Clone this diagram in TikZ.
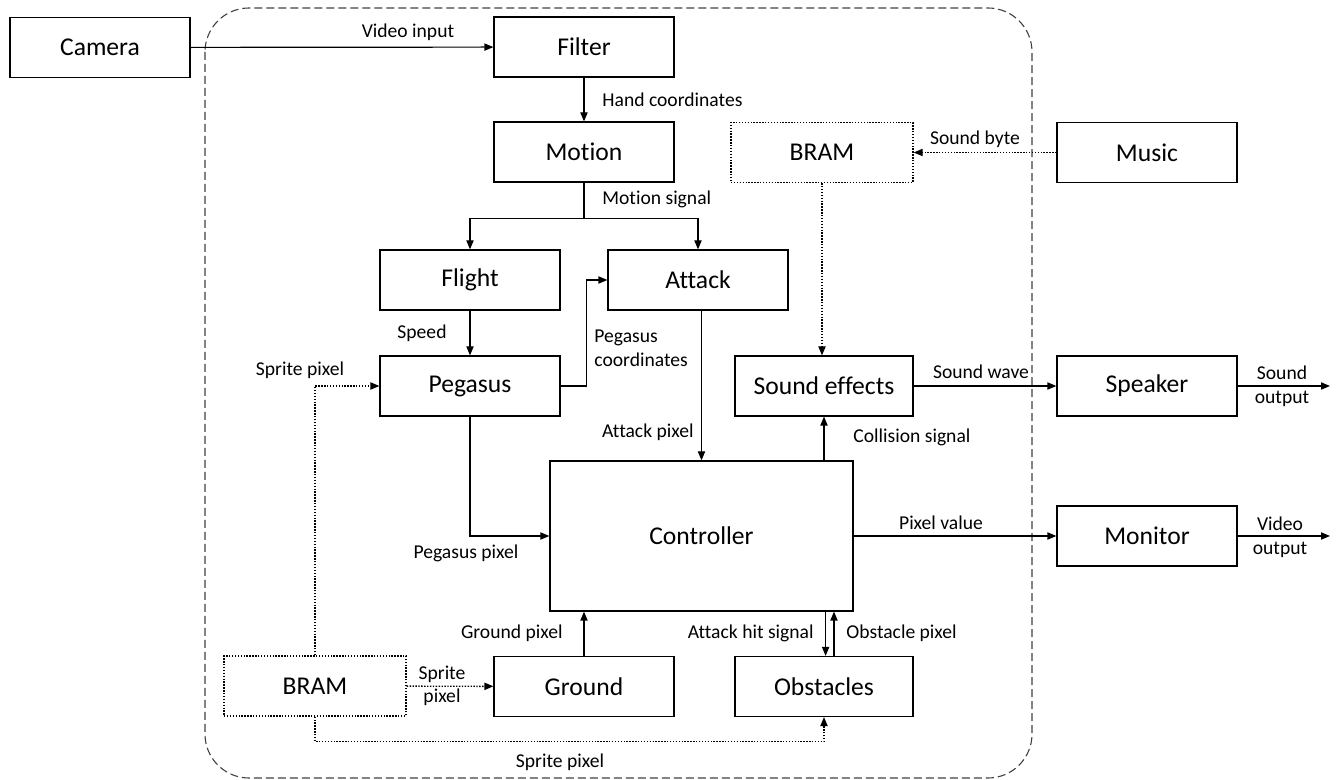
\documentclass[tikz,border=0pt]{standalone}
\usepackage{fontspec}
\setmainfont{Carlito}[Ligatures=NoCommon]
\usetikzlibrary{arrows.meta}
\begin{document}
\begin{tikzpicture}[x=0.5pt,y=-0.5pt,
  blk/.style={draw,line width=0.6pt,minimum width=90pt,minimum height=30pt,inner sep=0pt,
    font=\fontsize{12.8}{15}\selectfont},
  mem/.style={blk,line width=0.7pt,dash pattern=on 0.7pt off 0.75pt},
  lbl/.style={inner sep=0pt,font=\fontsize{9.8}{11.8}\selectfont,align=center},
  wire/.style={line width=0.6pt,-{Triangle[length=4.5pt,width=3.6pt]}},
  dwire/.style={wire,line width=0.7pt,dash pattern=on 0.7pt off 0.75pt},
  plain/.style={line width=0.6pt},
  fpga/.style={draw=black!75,line width=0.55pt,dash pattern=on 4pt off 2pt,rounded corners=22pt}
]
\useasboundingbox (0,0) rectangle (1340,780);

% FPGA boundary
\draw[fpga] (205,8) rectangle (1032,778);

% blocks
\node[blk] (camera)   at (100,47.5)  {Camera};
\node[blk] (filter)   at (584,47)    {Filter};
\node[blk] (motion)   at (584,152)   {Motion};
\node[blk] (flight)   at (470,280)   {Flight};
\node[blk] (attack)   at (698,280)   {Attack};
\node[blk] (pegasus)  at (470,386)   {Pegasus};
\node[mem,minimum width=91pt] (bramtop) at (822,152.5) {BRAM};
\node[blk] (music)    at (1147,152.5) {Music};
\node[blk,minimum width=89pt] (sfx) at (824,386) {Sound effects};
\node[blk] (speaker)  at (1147,386)  {Speaker};
\node[blk,minimum width=151.5pt,minimum height=75pt] (controller) at (701.5,536) {Controller};
\node[blk] (monitor)  at (1147,536)  {Monitor};
\node[mem,minimum width=91pt] (brambot) at (315,686) {BRAM};
\node[blk] (ground)   at (584,686.5) {Ground};
\node[blk,minimum width=89pt] (obstacles) at (824,686.5) {Obstacles};

\coordinate (sndout) at (1330,386);
\coordinate (vidout) at (1330,536);

% solid connectors
\draw[wire] (camera) -- (filter);
\draw[wire] (filter) -- (motion);
\draw[plain] (motion.south) -- ++(0,36) coordinate (split);
\draw[wire] (split) -| (flight.north);
\draw[wire] (split) -| (attack.north);
\draw[wire] (flight) -- (pegasus);
\draw[wire] (pegasus.east) -- ++(26,0) |- (attack.west);
\draw[wire] (controller.north |- attack.south) -- (controller.north);
\draw[wire] (pegasus.south) |- (controller.west);
\draw[wire] (ground.north) -- (ground.north |- controller.south);
\draw[wire] ([xshift=0.8pt]obstacles.north |- controller.south) -- ([xshift=0.8pt]obstacles.north);
\draw[wire] ([xshift=5pt]obstacles.north) -- ([xshift=5pt]obstacles.north |- controller.south);
\draw[wire] (sfx.south |- controller.north) -- (sfx.south);
\draw[wire] (sfx) -- (speaker);
\draw[wire] (speaker) -- (sndout);
\draw[wire] (controller) -- (monitor);
\draw[wire] (monitor) -- (vidout);

% memory connectors
\draw[dwire] (music) -- (bramtop);
\draw[dwire] (bramtop.south) -- (bramtop.south |- sfx.north);
\draw[dwire] (brambot.north) |- (pegasus.west);
\draw[dwire] (brambot) -- (ground);
\draw[dwire] (brambot.south) -- ++(0,25) -| (obstacles.south);

% signal labels
\node[lbl] (lvid)   at (408,32)  {Video input};
\node[lbl,anchor=west] (lhand) at (602,100) {Hand coordinates};
\node[lbl,anchor=west] (lmot)  at (602,199) {Motion signal};
\node[lbl] (lspeed) at (422,333) {Speed};
\node[lbl,anchor=west,align=left] (lpegc) at (594,348) {Pegasus\\coordinates};
\node[lbl] (lspr1)  at (300,370) {Sprite pixel};
\node[lbl,anchor=east] (latt) at (694,432) {Attack pixel};
\node[lbl,anchor=west] (lcol) at (853,437) {Collision signal};
\node[lbl] (lwave)  at (981,372) {Sound wave};
\node[lbl] (lsout)  at (1282,386) {Sound\\output};
\node[lbl] (lpix)   at (941,523) {Pixel value};
\node[lbl] (lvout)  at (1280,537) {Video\\output};
\node[lbl] (lpegp)  at (466,553) {Pegasus pixel};
\node[lbl,anchor=east] (lgnd) at (563,633) {Ground pixel};
\node[lbl,anchor=east] (lhit) at (814,633) {Attack hit signal};
\node[lbl,anchor=west] (lobs) at (846,633) {Obstacle pixel};
\node[lbl] (lspr2)  at (442,686) {Sprite\\pixel};
\node[lbl] (lspr3)  at (560,762) {Sprite pixel};
\node[lbl] (lbyte)  at (975,139) {Sound byte};
\end{tikzpicture}
\end{document}
